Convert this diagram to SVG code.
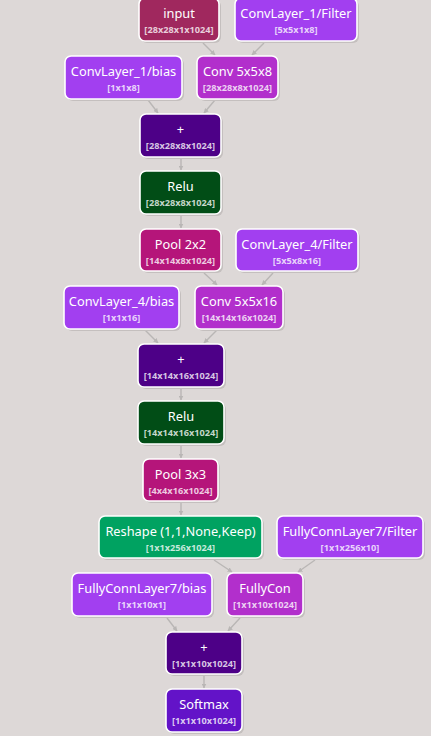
<svg xmlns="http://www.w3.org/2000/svg" width="431" height="736" viewBox="0 0 431 736">
<defs>
<style>
.bg{fill:#ddd8d7}
.sh{fill:#c4bfbe}
.n{stroke:#ffffff;stroke-width:1.6}
.t{font-family:"Noto Sans","Open Sans",sans-serif;font-size:12.8px;fill:#ffffff;text-anchor:middle}
.s{font-family:"Noto Sans","Open Sans",sans-serif;font-size:9.2px;font-weight:bold;fill:#ffffff;fill-opacity:0.78;text-anchor:middle}
.e{stroke:#b9b6b5;stroke-width:1.4;fill:none;marker-end:url(#ah)}
.c-in{fill:#a0285e}
.c-var{fill:#a23ff0}
.c-conv{fill:#b22fcc}
.c-add{fill:#4d0087}
.c-relu{fill:#014d16}
.c-pool{fill:#b5157a}
.c-resh{fill:#00a261}
.c-soft{fill:#6313c8}
</style>
<marker id="ah" viewBox="0 0 10 10" refX="9" refY="5" markerWidth="5" markerHeight="5" orient="auto" markerUnits="userSpaceOnUse">
<path d="M0,0 L10,5 L0,10 z" fill="#b9b6b5"/>
</marker>
</defs>
<rect class="bg" x="0" y="0" width="431" height="736"/>
<g id="connectors">
<line class="e" x1="203" y1="43" x2="215" y2="55"/>
<line class="e" x1="264" y1="43" x2="252" y2="55"/>
<line class="e" x1="148" y1="100" x2="158" y2="113"/>
<line class="e" x1="215" y1="100" x2="204" y2="113"/>
<line class="e" x1="181" y1="158" x2="181" y2="170"/>
<line class="e" x1="181" y1="215" x2="181" y2="228"/>
<line class="e" x1="204" y1="273" x2="217" y2="285"/>
<line class="e" x1="273" y1="273" x2="262" y2="285"/>
<line class="e" x1="145" y1="330" x2="158" y2="343"/>
<line class="e" x1="217" y1="330" x2="204" y2="343"/>
<line class="e" x1="181" y1="388" x2="181" y2="400"/>
<line class="e" x1="181" y1="445" x2="181" y2="458"/>
<line class="e" x1="181" y1="502" x2="181" y2="515"/>
<line class="e" x1="214" y1="560" x2="232" y2="572"/>
<line class="e" x1="315" y1="560" x2="298" y2="572"/>
<line class="e" x1="167" y1="618" x2="177" y2="631"/>
<line class="e" x1="240" y1="618" x2="228" y2="631"/>
<line class="e" x1="204" y1="675" x2="204" y2="688"/>
</g>
<g id="input">
<rect class="sh" x="141" y="0" width="80" height="43" rx="6"/>
<rect class="n c-in" x="139" y="-2" width="80" height="43" rx="6"/>
<text class="t" x="179" y="18">input</text>
<text class="s" x="179" y="33">[28x28x1x1024]</text>
</g>
<g id="convlayer1-filter">
<rect class="sh" x="237" y="0" width="122" height="43" rx="6"/>
<rect class="n c-var" x="235" y="-2" width="122" height="43" rx="6"/>
<text class="t" x="296" y="18">ConvLayer_1/Filter</text>
<text class="s" x="296" y="33">[5x5x1x8]</text>
</g>
<g id="convlayer1-bias">
<rect class="sh" x="67" y="58" width="117" height="43" rx="6"/>
<rect class="n c-var" x="65" y="56" width="117" height="43" rx="6"/>
<text class="t" x="123.5" y="76">ConvLayer_1/bias</text>
<text class="s" x="123.5" y="91">[1x1x8]</text>
</g>
<g id="conv1">
<rect class="sh" x="199" y="58" width="81" height="43" rx="6"/>
<rect class="n c-conv" x="197" y="56" width="81" height="43" rx="6"/>
<text class="t" x="237.5" y="76">Conv 5x5x8</text>
<text class="s" x="237.5" y="91">[28x28x8x1024]</text>
</g>
<g id="add1">
<rect class="sh" x="142" y="116" width="81" height="43" rx="6"/>
<rect class="n c-add" x="140" y="114" width="81" height="43" rx="6"/>
<text class="t" x="180.5" y="134">+</text>
<text class="s" x="180.5" y="149">[28x28x8x1024]</text>
</g>
<g id="relu1">
<rect class="sh" x="142" y="173" width="81" height="43" rx="6"/>
<rect class="n c-relu" x="140" y="171" width="81" height="43" rx="6"/>
<text class="t" x="180.5" y="191">Relu</text>
<text class="s" x="180.5" y="206">[28x28x8x1024]</text>
</g>
<g id="pool1">
<rect class="sh" x="142" y="231" width="81" height="42" rx="6"/>
<rect class="n c-pool" x="140" y="229" width="81" height="42" rx="6"/>
<text class="t" x="180.5" y="249">Pool 2x2</text>
<text class="s" x="180.5" y="264">[14x14x8x1024]</text>
</g>
<g id="convlayer4-filter">
<rect class="sh" x="238" y="231" width="122" height="42" rx="6"/>
<rect class="n c-var" x="236" y="229" width="122" height="42" rx="6"/>
<text class="t" x="297" y="249">ConvLayer_4/Filter</text>
<text class="s" x="297" y="264">[5x5x8x16]</text>
</g>
<g id="convlayer4-bias">
<rect class="sh" x="66" y="288" width="115" height="43" rx="6"/>
<rect class="n c-var" x="64" y="286" width="115" height="43" rx="6"/>
<text class="t" x="121.5" y="306">ConvLayer_4/bias</text>
<text class="s" x="121.5" y="321">[1x1x16]</text>
</g>
<g id="conv4">
<rect class="sh" x="197" y="288" width="88" height="43" rx="6"/>
<rect class="n c-conv" x="195" y="286" width="88" height="43" rx="6"/>
<text class="t" x="239" y="306">Conv 5x5x16</text>
<text class="s" x="239" y="321">[14x14x16x1024]</text>
</g>
<g id="add2">
<rect class="sh" x="140" y="346" width="86" height="43" rx="6"/>
<rect class="n c-add" x="138" y="344" width="86" height="43" rx="6"/>
<text class="t" x="181" y="364">+</text>
<text class="s" x="181" y="379">[14x14x16x1024]</text>
</g>
<g id="relu2">
<rect class="sh" x="140" y="403" width="86" height="43" rx="6"/>
<rect class="n c-relu" x="138" y="401" width="86" height="43" rx="6"/>
<text class="t" x="181" y="421">Relu</text>
<text class="s" x="181" y="436">[14x14x16x1024]</text>
</g>
<g id="pool3">
<rect class="sh" x="145" y="461" width="75" height="42" rx="6"/>
<rect class="n c-pool" x="143" y="459" width="75" height="42" rx="6"/>
<text class="t" x="180.5" y="479">Pool 3x3</text>
<text class="s" x="180.5" y="494">[4x4x16x1024]</text>
</g>
<g id="reshape">
<rect class="sh" x="101" y="518" width="163" height="42" rx="6"/>
<rect class="n c-resh" x="99" y="516" width="163" height="42" rx="6"/>
<text class="t" x="180.5" y="536">Reshape (1,1,None,Keep)</text>
<text class="s" x="180.5" y="551">[1x1x256x1024]</text>
</g>
<g id="fc7-filter">
<rect class="sh" x="279" y="518" width="146" height="42" rx="6"/>
<rect class="n c-var" x="277" y="516" width="146" height="42" rx="6"/>
<text class="t" x="350" y="536">FullyConnLayer7/Filter</text>
<text class="s" x="350" y="551">[1x1x256x10]</text>
</g>
<g id="fc7-bias">
<rect class="sh" x="74" y="575" width="140" height="43" rx="6"/>
<rect class="n c-var" x="72" y="573" width="140" height="43" rx="6"/>
<text class="t" x="142" y="593">FullyConnLayer7/bias</text>
<text class="s" x="142" y="608">[1x1x10x1]</text>
</g>
<g id="fullycon">
<rect class="sh" x="229" y="575" width="76" height="43" rx="6"/>
<rect class="n c-conv" x="227" y="573" width="76" height="43" rx="6"/>
<text class="t" x="265" y="593">FullyCon</text>
<text class="s" x="265" y="608">[1x1x10x1024]</text>
</g>
<g id="add3">
<rect class="sh" x="168" y="634" width="76" height="42" rx="6"/>
<rect class="n c-add" x="166" y="632" width="76" height="42" rx="6"/>
<text class="t" x="204" y="652">+</text>
<text class="s" x="204" y="667">[1x1x10x1024]</text>
</g>
<g id="softmax">
<rect class="sh" x="168" y="691" width="76" height="43" rx="6"/>
<rect class="n c-soft" x="166" y="689" width="76" height="43" rx="6"/>
<text class="t" x="204" y="709">Softmax</text>
<text class="s" x="204" y="724">[1x1x10x1024]</text>
</g>
</svg>
